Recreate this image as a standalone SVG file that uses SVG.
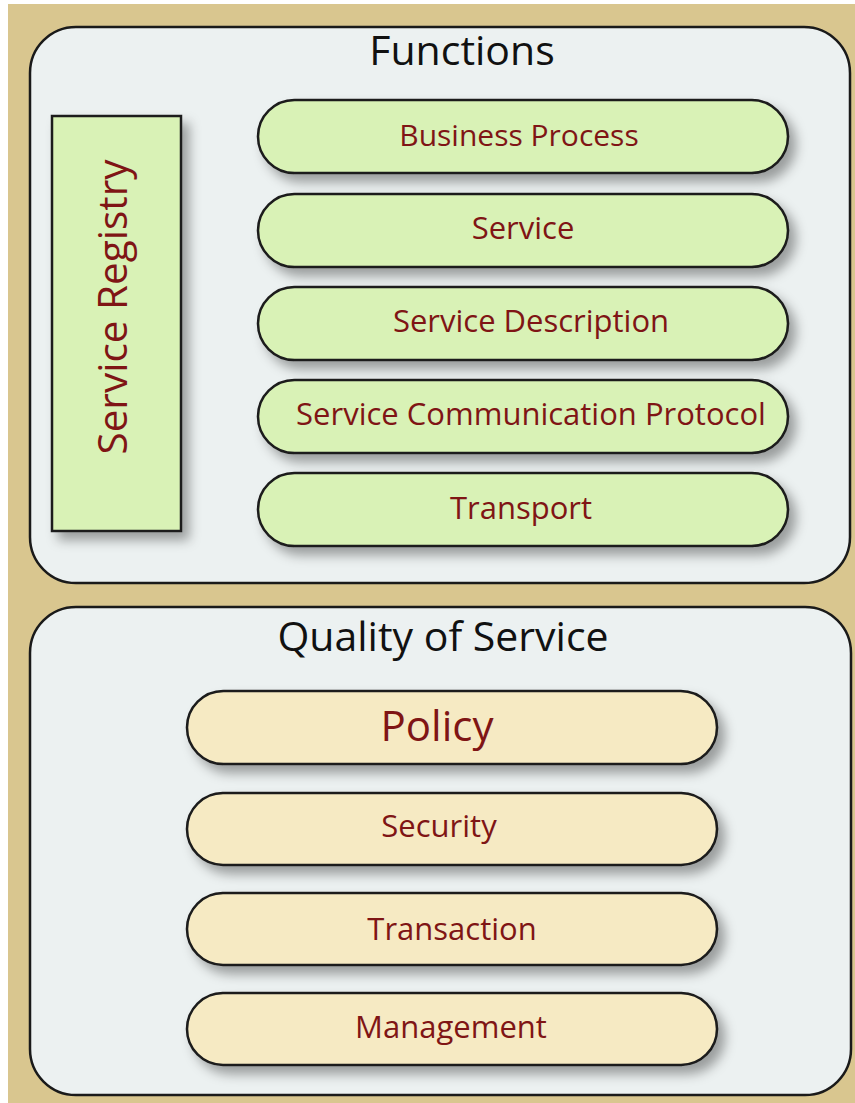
<svg xmlns="http://www.w3.org/2000/svg" width="855" height="1103" viewBox="0 0 855 1103">
<defs>
<filter id="sh" x="-20%" y="-30%" width="140%" height="170%">
<feDropShadow dx="7" dy="8" stdDeviation="6" flood-color="#000" flood-opacity="0.35"/>
</filter>
<style>
.panel{fill:#ecf1f1;stroke:#1a1a1a;stroke-width:2.5}
.g{fill:#d9f2b6;stroke:#1a1a1a;stroke-width:2.5}
.y{fill:#f6eac3;stroke:#1a1a1a;stroke-width:2.5}
.t{font-family:"Open Sans","Noto Sans","Liberation Sans",sans-serif;fill:#7f1515;text-anchor:middle;font-size:31px}
.h{font-family:"Open Sans","Noto Sans","Liberation Sans",sans-serif;fill:#111;text-anchor:middle;font-size:41px}
</style>
</defs>
<rect x="0" y="0" width="855" height="1103" fill="#ffffff"/>
<rect x="8" y="4" width="847" height="1099" fill="#d9c68f"/>
<g id="functions">
<rect class="panel" x="30" y="27" width="820" height="556" rx="46"/>
<text class="h" x="462" y="65">Functions</text>
</g>
<g id="service-registry">
<rect class="g" x="52" y="116" width="129" height="415" filter="url(#sh)"/>
<text class="t" style="font-size:40.5px" transform="translate(127,307) rotate(-90)">Service Registry</text>
</g>
<g id="business-process">
<rect class="g" x="258" y="100" width="530" height="73" rx="36.5" filter="url(#sh)"/>
<text class="t" style="font-size:30px" x="519" y="146">Business Process</text>
</g>
<g id="service">
<rect class="g" x="258" y="194" width="530" height="73" rx="36.5" filter="url(#sh)"/>
<text class="t" x="523" y="239">Service</text>
</g>
<g id="service-description">
<rect class="g" x="258" y="287" width="530" height="73" rx="36.5" filter="url(#sh)"/>
<text class="t" x="531" y="332">Service Description</text>
</g>
<g id="service-communication-protocol">
<rect class="g" x="258" y="380" width="530" height="73" rx="36.5" filter="url(#sh)"/>
<text class="t" x="531" y="425">Service Communication Protocol</text>
</g>
<g id="transport">
<rect class="g" x="258" y="473" width="530" height="73" rx="36.5" filter="url(#sh)"/>
<text class="t" x="521" y="519">Transport</text>
</g>
<g id="quality-of-service">
<rect class="panel" x="30" y="607" width="821" height="488" rx="46"/>
<text class="h" x="443" y="651">Quality of Service</text>
</g>
<g id="policy">
<rect class="y" x="187" y="691" width="530" height="73" rx="36.5" filter="url(#sh)"/>
<text class="t" style="font-size:42px" x="437" y="741">Policy</text>
</g>
<g id="security">
<rect class="y" x="187" y="793" width="530" height="72" rx="36" filter="url(#sh)"/>
<text class="t" x="439" y="837">Security</text>
</g>
<g id="transaction">
<rect class="y" x="187" y="893" width="530" height="72" rx="36" filter="url(#sh)"/>
<text class="t" x="452" y="940">Transaction</text>
</g>
<g id="management">
<rect class="y" x="187" y="993" width="530" height="72" rx="36" filter="url(#sh)"/>
<text class="t" x="451" y="1038">Management</text>
</g>
<g id="connectors"></g>
</svg>
